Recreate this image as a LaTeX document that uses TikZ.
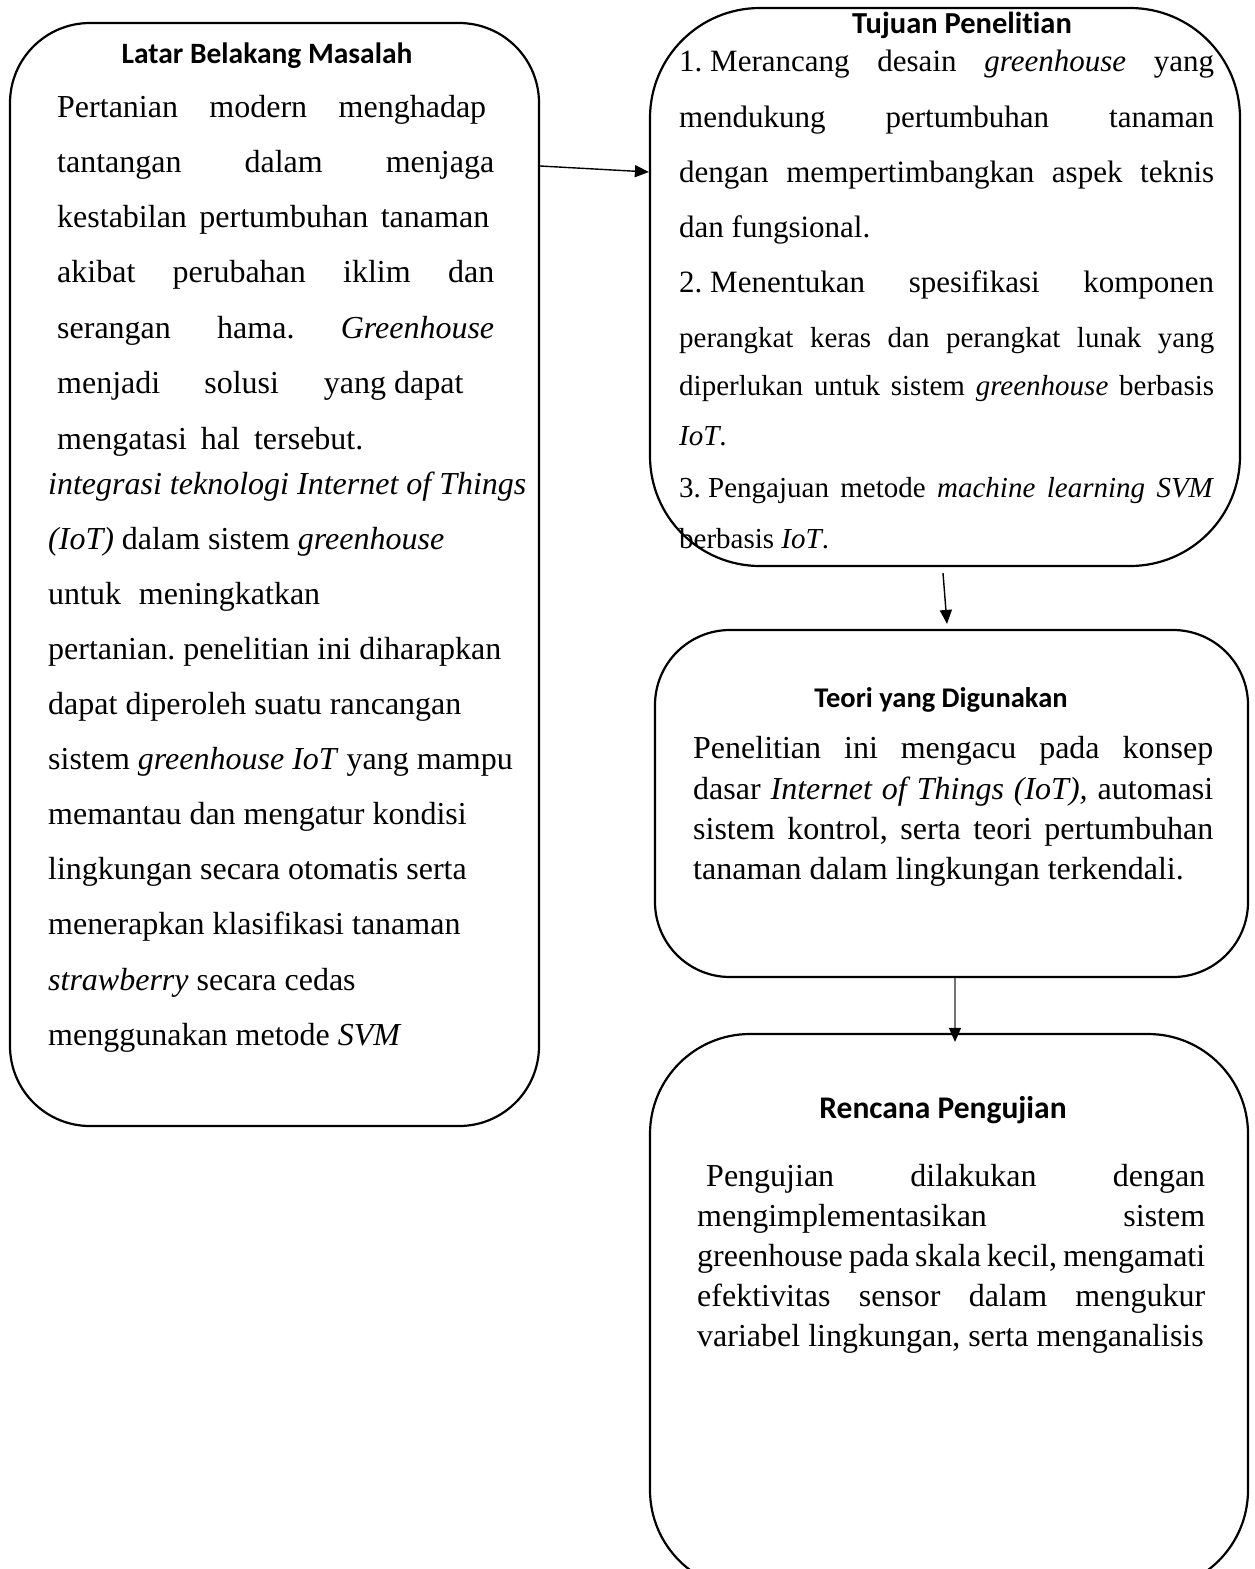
\documentclass[tikz,border=0pt]{standalone}
\usepackage{fontspec}
\setmainfont{Liberation Serif}
\newfontfamily\titlefont[Ligatures=NoCommon]{Carlito}
\usetikzlibrary{arrows.meta}
\newcommand\jl[2]{\makebox[#1pt][s]{#2}}
\frenchspacing
\begin{document}
\begin{tikzpicture}[x=1pt,y=-1pt,
  box/.style={draw, line width=2.2pt, rounded corners=#1, inner sep=0pt},
  tline/.style={anchor=base west, inner sep=0pt, font=\fontsize{32}{38}\selectfont},
  tujline/.style={anchor=base west, inner sep=0pt, font=\fontsize{31}{36}\selectfont},
  tujsmall/.style={anchor=base west, inner sep=0pt, font=\fontsize{29}{34}\selectfont},
  ttl/.style={anchor=base, inner sep=0pt, font=\titlefont\bfseries\fontsize{#1}{#1}\selectfont},
  arr/.style={line width=1.4pt, -{Triangle[length=14pt,width=12pt]}}]
\useasboundingbox (0,0) rectangle (1254,1569);
\fill[white] (0,0) rectangle (1254,1569);

% boxes
\node[box=80pt, minimum width=529pt, minimum height=1103pt] (lbm) at (274.5,574.5) {};
\node[box=110pt, minimum width=590pt, minimum height=558pt] (tuj) at (945,287) {};
\node[box=75pt, minimum width=593pt, minimum height=347pt] (teo) at (951.5,803.5) {};
\node[box=100pt, minimum width=598pt, minimum height=556pt] (ren) at (949,1312) {};

% connectors
\draw[arr] (lbm.east |- 0,166) -- (tuj.west |- 0,172);
\draw[arr] ([shift={(-2,6)}]tuj.south) -- ([shift={(-4.5,-5)}]teo.north);
\draw[line width=1.4pt, draw=black!55, -{Triangle[length=14pt,width=12pt,color=black]}]
  ([xshift=3.5pt]teo.south) -- ([shift={(6,9)}]ren.north);

% Latar Belakang Masalah
\node[ttl=29.5] (lt) at (267,63) {Latar Belakang Masalah};
\node[tline] (l1) at (57,117) {\jl{429}{Pertanian modern menghadap}};
\node[tline] (l2) at (57,172) {\jl{437}{tantangan dalam menjaga}};
\node[tline] (l3) at (57,227) {\jl{432}{kestabilan pertumbuhan tanaman}};
\node[tline] (l4) at (57,282) {\jl{437}{akibat perubahan iklim dan}};
\node[tline] (l5) at (57,338) {\jl{437}{serangan hama. \textit{Greenhouse}}};
\node[tline] (l6) at (57,393) {menjadi\hspace{44pt}solusi\hspace{45pt}yang dapat};
\node[tline] (l7) at (57,449) {mengatasi\hspace{14pt}hal\hspace{14pt}tersebut.};
\node[tline] (l8) at (48,494) {\textit{integrasi teknologi Internet of Things}};
\node[tline] (l9) at (48,549) {\textit{(IoT)} dalam sistem \textit{greenhouse}};
\node[tline] (l10) at (48,604) {\jl{272}{untuk meningkatkan}};
\node[tline] (l11) at (48,659) {pertanian. penelitian ini diharapkan};
\node[tline] (l12) at (48,714) {dapat diperoleh suatu rancangan};
\node[tline] (l13) at (48,769) {sistem \textit{greenhouse IoT} yang mampu};
\node[tline] (l14) at (48,824) {memantau dan mengatur kondisi};
\node[tline] (l15) at (48,879) {lingkungan secara otomatis serta};
\node[tline] (l16) at (48,934) {menerapkan klasifikasi tanaman};
\node[tline] (l17) at (48,990) {\textit{strawberry} secara cedas};
\node[tline] (l18) at (48,1045) {menggunakan metode \textit{SVM}};

% Tujuan Penelitian
\node[ttl=30.5] (tt) at (962,33) {Tujuan Penelitian};
\node[tujline] (t1) at (679,71) {\jl{535}{1.\hspace{0.25em}Merancang desain \textit{greenhouse} yang}};
\node[tujline] (t2) at (679,127) {\jl{535}{mendukung pertumbuhan tanaman}};
\node[tujline] (t3) at (679,182) {\jl{535}{dengan mempertimbangkan aspek teknis}};
\node[tujline] (t4) at (679,237) {dan fungsional.};
\node[tujline] (t5) at (679,292) {\jl{535}{2.\hspace{0.25em}Menentukan spesifikasi komponen}};
\node[tujsmall] (t6) at (679,347) {\jl{535}{perangkat keras dan perangkat lunak yang}};
\node[tujsmall] (t7) at (679,395) {\jl{535}{diperlukan untuk sistem \textit{greenhouse} berbasis}};
\node[tujsmall] (t8) at (679,445) {\textit{IoT}.};
\node[tujsmall] (t9) at (679,497) {\jl{535}{3.\hspace{0.25em}Pengajuan metode \textit{machine learning SVM}}};
\node[tujsmall] (t10) at (679,548) {berbasis \textit{IoT}.};

% Teori yang Digunakan
\node[ttl=28.5] (et) at (941,707) {Teori yang Digunakan};
\node[tline] (e1) at (693,758) {\jl{520}{Penelitian ini mengacu pada konsep}};
\node[tline] (e2) at (693,799) {\jl{520}{dasar \textit{Internet of Things (IoT),} automasi}};
\node[tline] (e3) at (693,839) {\jl{520}{sistem kontrol, serta teori pertumbuhan}};
\node[tline] (e4) at (693,879) {tanaman dalam lingkungan terkendali.};

% Rencana Pengujian
\node[ttl=31.5] (rt) at (943,1118) {Rencana Pengujian};
\node[tline] (r1) at (706,1186) {\jl{499}{Pengujian dilakukan dengan}};
\node[tline] (r2) at (697,1226) {\jl{508}{mengimplementasikan sistem}};
\node[tline] (r3) at (697,1266) {\jl{508}{greenhouse pada skala kecil, mengamati}};
\node[tline] (r4) at (697,1306) {\jl{508}{efektivitas sensor dalam mengukur}};
\node[tline] (r5) at (697,1346) {variabel lingkungan, serta menganalisis};
\end{tikzpicture}
\end{document}
